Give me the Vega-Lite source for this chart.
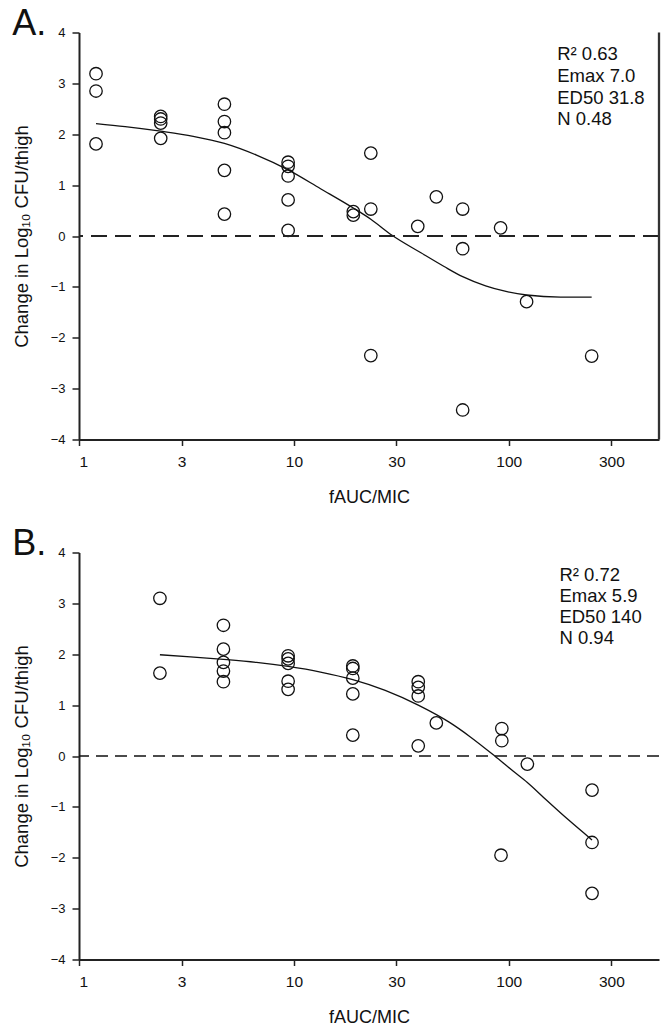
{
  "$schema": "https://vega.github.io/schema/vega-lite/v6.json",
  "background": "white",
  "padding": {"left": 12, "top": 5.5, "right": 0, "bottom": 0},
  "config": {
    "font": "Liberation Sans",
    "view": {"stroke": null},
    "concat": {"spacing": 19},
    "axis": {"grid": false, "domainColor": "#222", "tickColor": "#222", "labelColor": "#111", "titleColor": "#111", "titleFontWeight": "normal", "domainWidth": 2, "tickWidth": 1.5},
    "axisX": {"labelFontSize": 15.5, "tickSize": 6, "labelPadding": 9, "titleFontSize": 18, "titlePadding": 18},
    "axisY": {"labelFontSize": 13, "tickSize": 7, "labelPadding": 7, "titleFontSize": 18.5, "titlePadding": 19},
    "title": {"fontWeight": "normal", "color": "#111"}
  },
  "datasets": {
    "pointsA": [
      {"x": 1.2, "y": 3.19}, {"x": 1.2, "y": 2.85}, {"x": 1.2, "y": 1.81},
      {"x": 2.4, "y": 2.35}, {"x": 2.4, "y": 2.30}, {"x": 2.4, "y": 2.22}, {"x": 2.4, "y": 1.92},
      {"x": 4.75, "y": 2.59}, {"x": 4.75, "y": 2.25}, {"x": 4.75, "y": 2.03}, {"x": 4.75, "y": 1.29}, {"x": 4.75, "y": 0.43},
      {"x": 9.4, "y": 1.45}, {"x": 9.4, "y": 1.37}, {"x": 9.4, "y": 1.18}, {"x": 9.4, "y": 0.71}, {"x": 9.4, "y": 0.11},
      {"x": 18.9, "y": 0.48}, {"x": 18.9, "y": 0.41},
      {"x": 22.8, "y": 1.63}, {"x": 22.8, "y": 0.53}, {"x": 22.8, "y": -2.35},
      {"x": 37.7, "y": 0.19}, {"x": 46, "y": 0.77},
      {"x": 61, "y": 0.53}, {"x": 61, "y": -0.25}, {"x": 61, "y": -3.42},
      {"x": 91.6, "y": 0.16}, {"x": 121, "y": -1.29}, {"x": 243, "y": -2.36}
    ],
    "curveA": [
      {"x": 1.2, "y": 2.21}, {"x": 1.64, "y": 2.15}, {"x": 2.4, "y": 2.06}, {"x": 3.4, "y": 1.96},
      {"x": 4.75, "y": 1.82}, {"x": 6.7, "y": 1.59}, {"x": 9.4, "y": 1.30}, {"x": 13.3, "y": 0.93},
      {"x": 18.9, "y": 0.55}, {"x": 22.8, "y": 0.33}, {"x": 28.5, "y": 0.02}, {"x": 39, "y": -0.33},
      {"x": 50, "y": -0.60}, {"x": 61, "y": -0.80}, {"x": 78, "y": -0.98}, {"x": 97, "y": -1.09},
      {"x": 121, "y": -1.16}, {"x": 174, "y": -1.20}, {"x": 243, "y": -1.20}
    ],
    "annA": [
      {"x": 168, "y": 3.45, "label": "R² 0.63"},
      {"x": 168, "y": 3.03, "label": "Emax 7.0"},
      {"x": 168, "y": 2.60, "label": "ED50 31.8"},
      {"x": 168, "y": 2.18, "label": "N 0.48"}
    ],
    "pointsB": [
      {"x": 2.38, "y": 3.10}, {"x": 2.38, "y": 1.63},
      {"x": 4.7, "y": 2.57}, {"x": 4.7, "y": 2.10}, {"x": 4.7, "y": 1.84}, {"x": 4.7, "y": 1.67}, {"x": 4.7, "y": 1.46},
      {"x": 9.4, "y": 1.97}, {"x": 9.4, "y": 1.91}, {"x": 9.4, "y": 1.82}, {"x": 9.4, "y": 1.47}, {"x": 9.4, "y": 1.31},
      {"x": 18.8, "y": 1.77}, {"x": 18.8, "y": 1.72}, {"x": 18.8, "y": 1.53}, {"x": 18.8, "y": 1.22}, {"x": 18.8, "y": 0.41},
      {"x": 37.9, "y": 1.46}, {"x": 37.9, "y": 1.35}, {"x": 37.9, "y": 1.18}, {"x": 37.9, "y": 0.20},
      {"x": 46, "y": 0.65},
      {"x": 92.8, "y": 0.54}, {"x": 92.8, "y": 0.30}, {"x": 92, "y": -1.95},
      {"x": 122, "y": -0.16},
      {"x": 244, "y": -0.67}, {"x": 244, "y": -1.70}, {"x": 244, "y": -2.70}
    ],
    "curveB": [
      {"x": 2.38, "y": 1.99}, {"x": 3.3, "y": 1.95}, {"x": 4.7, "y": 1.90}, {"x": 6.7, "y": 1.84},
      {"x": 9.4, "y": 1.76}, {"x": 13.3, "y": 1.65}, {"x": 18.8, "y": 1.50}, {"x": 26.6, "y": 1.29},
      {"x": 37.9, "y": 1.00}, {"x": 53, "y": 0.66}, {"x": 66, "y": 0.38}, {"x": 86, "y": 0.0},
      {"x": 105, "y": -0.30}, {"x": 122, "y": -0.52}, {"x": 150, "y": -0.87}, {"x": 190, "y": -1.26},
      {"x": 244, "y": -1.65}
    ],
    "annB": [
      {"x": 172, "y": 3.44, "label": "R² 0.72"},
      {"x": 172, "y": 3.02, "label": "Emax 5.9"},
      {"x": 172, "y": 2.61, "label": "ED50 140"},
      {"x": 172, "y": 2.20, "label": "N 0.94"}
    ]
  },
  "vconcat": [
    {
      "title": {"text": "A.", "anchor": "start", "frame": "bounds", "fontSize": 36, "offset": 0, "dy": 16.5},
      "width": 580,
      "height": 407,
      "layer": [
        {
          "data": {"name": "pointsA"},
          "mark": {"type": "point", "shape": "circle", "filled": false, "size": 155, "stroke": "#111", "strokeWidth": 1.3, "opacity": 1},
          "encoding": {
            "x": {"field": "x", "type": "quantitative", "scale": {"type": "log", "domain": [1, 500], "nice": false},
                  "axis": {"title": "fAUC/MIC", "values": [1, 3, 10, 30, 100, 300], "format": "d"}},
            "y": {"field": "y", "type": "quantitative", "scale": {"domain": [-4, 4], "nice": false, "zero": false},
                  "axis": {"title": "Change in Log₁₀ CFU/thigh", "values": [-4, -3, -2, -1, 0, 1, 2, 3, 4]}}
          }
        },
        {
          "data": {"name": "curveA"},
          "mark": {"type": "line", "color": "#111", "strokeWidth": 1.3, "interpolate": "monotone"},
          "encoding": {
            "x": {"field": "x", "type": "quantitative"},
            "y": {"field": "y", "type": "quantitative"}
          }
        },
        {
          "data": {"values": [{}]},
          "mark": {"type": "rule", "color": "#222", "strokeWidth": 2, "strokeDash": [16, 8]},
          "encoding": {"y": {"datum": 0}}
        },
        {
          "data": {"values": [{}]},
          "mark": {"type": "rule", "color": "#333", "strokeWidth": 2.3},
          "encoding": {"x": {"datum": 500}}
        },
        {
          "data": {"name": "annA"},
          "mark": {"type": "text", "align": "left", "baseline": "alphabetic", "fontSize": 18.5, "color": "#111"},
          "encoding": {
            "x": {"field": "x", "type": "quantitative"},
            "y": {"field": "y", "type": "quantitative"},
            "text": {"field": "label"}
          }
        }
      ]
    },
    {
      "title": {"text": "B.", "anchor": "start", "frame": "bounds", "fontSize": 36, "offset": 0, "dy": 16.5},
      "width": 580,
      "height": 407,
      "layer": [
        {
          "data": {"name": "pointsB"},
          "mark": {"type": "point", "shape": "circle", "filled": false, "size": 155, "stroke": "#111", "strokeWidth": 1.3, "opacity": 1},
          "encoding": {
            "x": {"field": "x", "type": "quantitative", "scale": {"type": "log", "domain": [1, 500], "nice": false},
                  "axis": {"title": "fAUC/MIC", "values": [1, 3, 10, 30, 100, 300], "format": "d"}},
            "y": {"field": "y", "type": "quantitative", "scale": {"domain": [-4, 4], "nice": false, "zero": false},
                  "axis": {"title": "Change in Log₁₀ CFU/thigh", "values": [-4, -3, -2, -1, 0, 1, 2, 3, 4]}}
          }
        },
        {
          "data": {"name": "curveB"},
          "mark": {"type": "line", "color": "#111", "strokeWidth": 1.3, "interpolate": "monotone"},
          "encoding": {
            "x": {"field": "x", "type": "quantitative"},
            "y": {"field": "y", "type": "quantitative"}
          }
        },
        {
          "data": {"values": [{}]},
          "mark": {"type": "rule", "color": "#111", "strokeWidth": 1.3, "strokeDash": [12, 7]},
          "encoding": {"y": {"datum": 0}}
        },
        {
          "data": {"name": "annB"},
          "mark": {"type": "text", "align": "left", "baseline": "alphabetic", "fontSize": 18.5, "color": "#111"},
          "encoding": {
            "x": {"field": "x", "type": "quantitative"},
            "y": {"field": "y", "type": "quantitative"},
            "text": {"field": "label"}
          }
        }
      ]
    }
  ]
}
